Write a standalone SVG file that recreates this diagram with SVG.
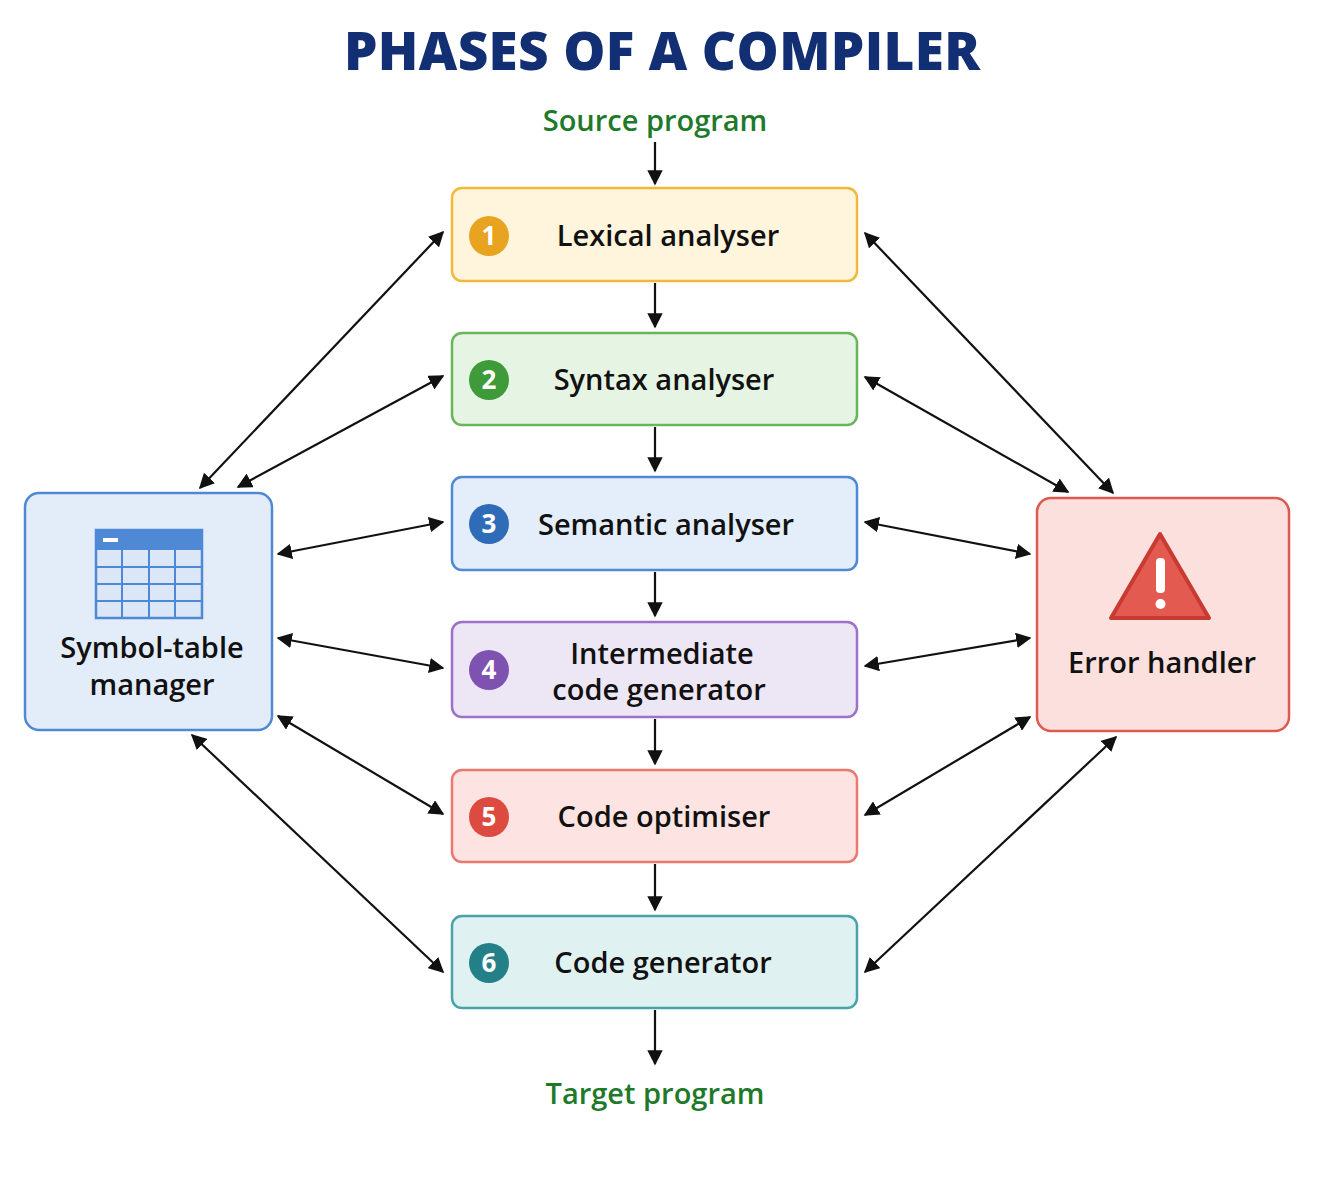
<svg xmlns="http://www.w3.org/2000/svg" width="1324" height="1188" viewBox="0 0 1324 1188">
<style>
.t{font-family:"Open Sans","Liberation Sans",sans-serif;font-weight:600;font-size:29px;fill:#111;text-anchor:middle}
.n{font-family:"Open Sans","Liberation Sans",sans-serif;font-weight:700;font-size:26px;fill:#fff;text-anchor:middle}
.g{font-family:"Open Sans","Liberation Sans",sans-serif;font-weight:600;font-size:29px;fill:#1e7a2a;text-anchor:middle}
.c line{stroke:#111;stroke-width:2.2}
</style>
<defs>
<marker id="a" viewBox="0 0 10 10" refX="9" refY="5" markerWidth="7" markerHeight="7" orient="auto-start-reverse"><path d="M0,0L10,5L0,10z" fill="#111"/></marker>
</defs>
<rect width="1324" height="1188" fill="#fff"/>
<text x="662" y="70" font-family="'Open Sans','Liberation Sans',sans-serif" font-weight="800" font-size="53" fill="#132f74" text-anchor="middle" textLength="636">PHASES OF A COMPILER</text>
<text class="g" x="655" y="131">Source program</text>
<text class="g" x="655" y="1104">Target program</text>
<g class="c">
<line x1="655" y1="142" x2="655" y2="184" marker-end="url(#a)"/>
<line x1="655" y1="283" x2="655" y2="327" marker-end="url(#a)"/>
<line x1="655" y1="427" x2="655" y2="471" marker-end="url(#a)"/>
<line x1="655" y1="572" x2="655" y2="616" marker-end="url(#a)"/>
<line x1="655" y1="719" x2="655" y2="764" marker-end="url(#a)"/>
<line x1="655" y1="864" x2="655" y2="910" marker-end="url(#a)"/>
<line x1="655" y1="1010" x2="655" y2="1064" marker-end="url(#a)"/>
<line x1="200" y1="488" x2="443" y2="232" marker-start="url(#a)" marker-end="url(#a)"/>
<line x1="238" y1="487" x2="443" y2="376" marker-start="url(#a)" marker-end="url(#a)"/>
<line x1="278" y1="554" x2="443" y2="522" marker-start="url(#a)" marker-end="url(#a)"/>
<line x1="278" y1="638" x2="443" y2="668" marker-start="url(#a)" marker-end="url(#a)"/>
<line x1="278" y1="716" x2="443" y2="814" marker-start="url(#a)" marker-end="url(#a)"/>
<line x1="192" y1="735" x2="443" y2="972" marker-start="url(#a)" marker-end="url(#a)"/>
<line x1="865" y1="233" x2="1113" y2="493" marker-start="url(#a)" marker-end="url(#a)"/>
<line x1="865" y1="377" x2="1068" y2="492" marker-start="url(#a)" marker-end="url(#a)"/>
<line x1="865" y1="522" x2="1030" y2="554" marker-start="url(#a)" marker-end="url(#a)"/>
<line x1="865" y1="666" x2="1030" y2="638" marker-start="url(#a)" marker-end="url(#a)"/>
<line x1="865" y1="815" x2="1030" y2="717" marker-start="url(#a)" marker-end="url(#a)"/>
<line x1="865" y1="972" x2="1116" y2="737" marker-start="url(#a)" marker-end="url(#a)"/>
</g>
<g id="p1"><rect x="452" y="188" width="405" height="93" rx="10" fill="#fff4dc" stroke="#f0b93a" stroke-width="2.5"/><circle cx="489" cy="236" r="20" fill="#e8a420"/><text class="n" x="489" y="245">1</text><text class="t" x="668" y="246">Lexical analyser</text></g>
<g id="p2"><rect x="452" y="333" width="405" height="92" rx="10" fill="#e6f4e4" stroke="#6ab55a" stroke-width="2.5"/><circle cx="489" cy="380" r="20" fill="#3f9a3a"/><text class="n" x="489" y="389">2</text><text class="t" x="664" y="390">Syntax analyser</text></g>
<g id="p3"><rect x="452" y="477" width="405" height="93" rx="10" fill="#e4eefa" stroke="#4f88d4" stroke-width="2.5"/><circle cx="489" cy="524" r="20" fill="#2f6cb8"/><text class="n" x="489" y="533">3</text><text class="t" x="666" y="535">Semantic analyser</text></g>
<g id="p4"><rect x="452" y="622" width="405" height="95" rx="10" fill="#ede6f5" stroke="#9b72c8" stroke-width="2.5"/><circle cx="489" cy="670" r="20" fill="#7e52b0"/><text class="n" x="489" y="679">4</text><text class="t" x="662" y="664" font-size="28">Intermediate</text><text class="t" x="659" y="700" font-size="28">code generator</text></g>
<g id="p5"><rect x="452" y="770" width="405" height="92" rx="10" fill="#fde4e2" stroke="#e87a72" stroke-width="2.5"/><circle cx="489" cy="817" r="20" fill="#dd4a40"/><text class="n" x="489" y="826">5</text><text class="t" x="664" y="827">Code optimiser</text></g>
<g id="p6"><rect x="452" y="916" width="405" height="92" rx="10" fill="#dff1f1" stroke="#4aa3a8" stroke-width="2.5"/><circle cx="489" cy="963" r="20" fill="#238088"/><text class="n" x="489" y="972">6</text><text class="t" x="663" y="973">Code generator</text></g>
<g id="symtab"><rect x="25" y="493" width="247" height="237" rx="14" fill="#e3edfa" stroke="#4f88d4" stroke-width="2.5"/>
<rect x="96" y="530" width="106" height="88" fill="#dbe7f7" stroke="#4f88d4" stroke-width="2.5"/>
<rect x="96" y="530" width="106" height="20" fill="#4f88d4"/><rect x="103" y="538" width="15" height="4" fill="#fff"/>
<g stroke="#4f88d4" stroke-width="2"><line x1="122" y1="550" x2="122" y2="618"/><line x1="149" y1="550" x2="149" y2="618"/><line x1="175" y1="550" x2="175" y2="618"/><line x1="96" y1="567" x2="202" y2="567"/><line x1="96" y1="584" x2="202" y2="584"/><line x1="96" y1="601" x2="202" y2="601"/></g>
<text class="t" x="152" y="658">Symbol-table</text><text class="t" x="152" y="695">manager</text></g>
<g id="errh"><rect x="1037" y="498" width="252" height="233" rx="14" fill="#fbe0de" stroke="#dd5a50" stroke-width="2.5"/>
<path d="M1160,534L1209,618L1111,618Z" fill="#e35a50" stroke="#c83a32" stroke-width="4" stroke-linejoin="round"/>
<rect x="1156" y="558" width="9" height="35" rx="4" fill="#fff"/><circle cx="1160.5" cy="604" r="5" fill="#fff"/>
<text class="t" x="1162" y="673">Error handler</text></g>
</svg>
